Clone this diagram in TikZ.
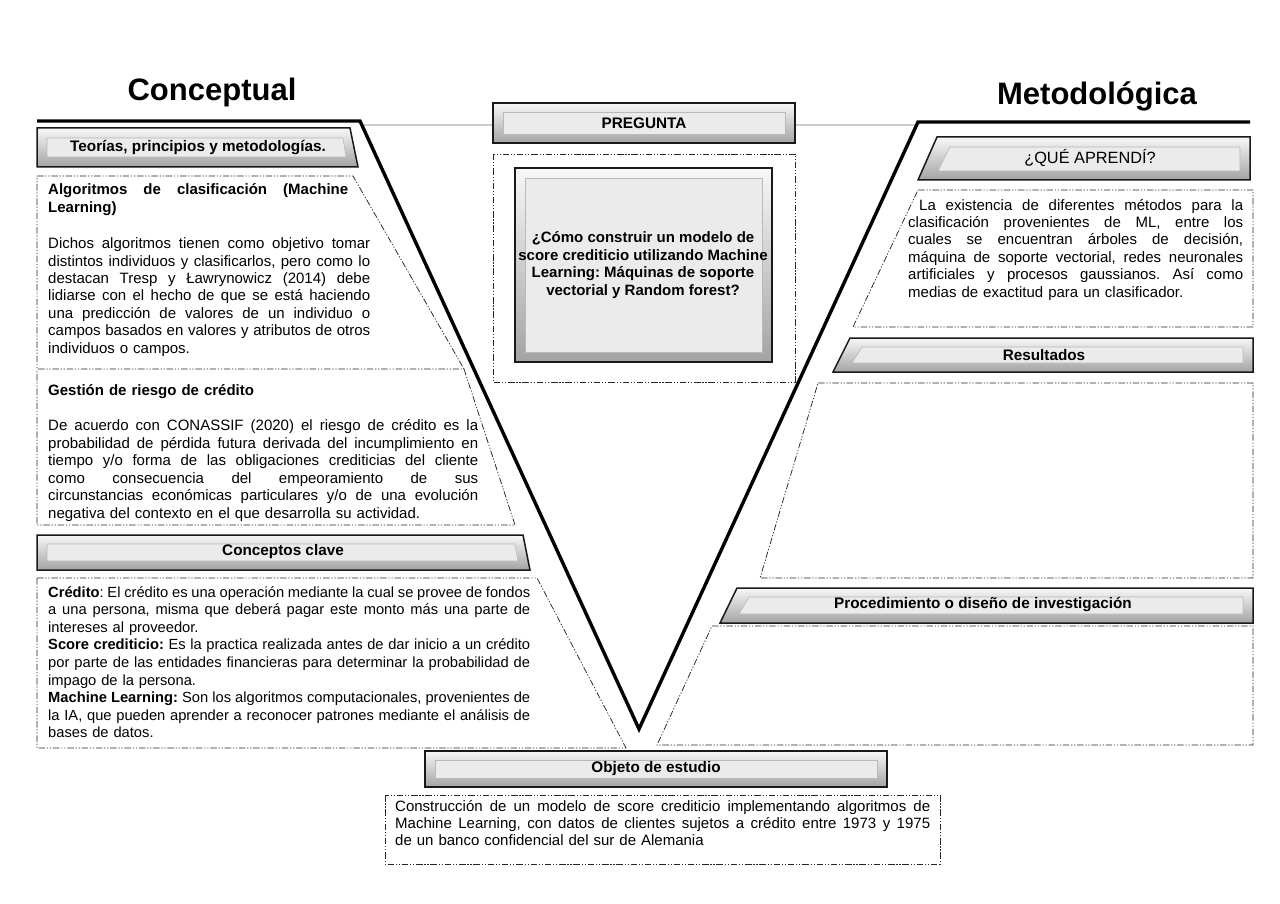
\documentclass[tikz,border=0pt]{standalone}
\usepackage{fontspec}
\setmainfont{Liberation Sans}
\frenchspacing
\newcommand\bodyfont{\fontsize{15}{17.4}\selectfont\frenchspacing}
\newcommand\gesfont{\fontsize{15}{17.5}\selectfont\frenchspacing}
\newcommand\credfont{\fontsize{14.7}{17.6}\selectfont\frenchspacing}
\newcommand\hdrfont{\fontsize{15.3}{17.4}\selectfont\bfseries}
\newcommand\titlefont{\fontsize{31}{36}\selectfont\bfseries}
\newcommand\jl[2]{\leavevmode\hbox to #1pt{\spaceskip=0.278em plus 3em minus 0.07em\xspaceskip=\spaceskip\relax #2}}
\newcommand\bevel[2]{%
  \path[bevelout] #1 -- cycle;
  \path[bevelin] #2 -- cycle;
  \draw[bevelrim] #1 -- cycle;}
\begin{document}
\begin{tikzpicture}[x=1pt,y=-1pt,
  dd/.style={draw=black!85, line width=0.75pt, dash pattern=on 6.5pt off 1.8pt on 1.2pt off 1.8pt on 1.2pt off 1.8pt},
  bevelout/.style={top color=gray!6, bottom color=gray!72},
  bevelin/.style={fill=gray!16, draw=gray!55, line width=0.6pt},
  bevelrim/.style={draw=black!90, line width=1.5pt, line join=miter},
  hdrtext/.style={font=\hdrfont, inner sep=0pt},
  titletext/.style={font=\titlefont, inner sep=0pt, anchor=base},
  body/.style={font=\bodyfont, inner sep=0pt, anchor=north west, align=left}]
\useasboundingbox (0,0) rectangle (1280,904);
\fill[white] (0,0) rectangle (1280,904);

% thin gray line behind PREGUNTA
\draw[gray!40, line width=1.8pt] (360,125) -- (918,125);

% titles
\node[titletext] (tconc) at (212,101) {Conceptual};
\node[titletext] (tmet) at (1097,105) {Metodológica};

% ---------- left column ----------
\bevel{(37,128) -- (350,128) -- (358,167) -- (37,167)}{(47,138) -- (343,138) -- (346,157) -- (47,157)}
\node[hdrtext] (hteo) at (198,148) {Teorías, principios y metodologías.};

\draw[dd] (37,176) -- (353,176) -- (464,369) -- (37,369) -- cycle;
\node[body, text width=322pt] (alg) at (48,182.3) {\strut\jl{300}{\textbf{Algoritmos de clasificación (Machine}}\\\textbf{Learning)}};
\node[body, text width=322pt] (algtxt) at (48,236.3) {\strut\jl{322}{Dichos algoritmos tienen como objetivo tomar}\\
\jl{322}{distintos individuos y clasificarlos, pero como lo}\\
\jl{322}{destacan Tresp y Ławrynowicz (2014) debe}\\
\jl{322}{lidiarse con el hecho de que se está haciendo}\\
\jl{322}{una predicción de valores de un individuo o}\\
\jl{322}{campos basados en valores y atributos de otros}\\
individuos o campos.};

\draw[dd] (464,369) -- (515,525) -- (37,525) -- (37,369);
\node[body, text width=430pt] (ges) at (48,383.3) {\strut\textbf{Gestión de riesgo de crédito}};
\node[body, font=\gesfont, text width=430pt] (gestxt) at (48,418.3) {\strut\jl{430}{De acuerdo con CONASSIF (2020) el riesgo de crédito es la}\\
\jl{430}{probabilidad de pérdida futura derivada del incumplimiento en}\\
\jl{430}{tiempo y/o forma de las obligaciones crediticias del cliente}\\
\jl{430}{como consecuencia del empeoramiento de sus}\\
\jl{430}{circunstancias económicas particulares y/o de una evolución}\\
negativa del contexto en el que desarrolla su actividad.};

\bevel{(37,535) -- (523,535) -- (530,570) -- (37,570)}{(47,544) -- (515,544) -- (518,561) -- (47,561)}
\node[hdrtext] (hcon) at (283,552) {Conceptos clave};

\draw[dd] (37,578) -- (537,578) -- (626,748) -- (37,748) -- cycle;
\node[body, font=\credfont, text width=482pt] (cred) at (48,584.6) {\strut\jl{482}{\textbf{Crédito}: El crédito es una operación mediante la cual se provee de fondos}\\
\jl{482}{a una persona, misma que deberá pagar este monto más una parte de}\\
intereses al proveedor.\\
\jl{482}{\textbf{Score crediticio:} Es la practica realizada antes de dar inicio a un crédito}\\
\jl{482}{por parte de las entidades financieras para determinar la probabilidad de}\\
impago de la persona.\\
\jl{482}{\textbf{Machine Learning:} Son los algoritmos computacionales, provenientes de}\\
\jl{482}{la IA, que pueden aprender a reconocer patrones mediante el análisis de}\\
bases de datos.};

% ---------- centre ----------
\bevel{(493,103) -- (795,103) -- (795,143) -- (493,143)}{(503,112) -- (785,112) -- (785,134) -- (503,134)}
\node[hdrtext] (hpre) at (644,123) {PREGUNTA};
\draw[dd] (493,154) rectangle (795,382);
\bevel{(515,168) -- (772,168) -- (772,362) -- (515,362)}{(525,178) -- (762,178) -- (762,352) -- (525,352)}
\node[hdrtext, font=\fontsize{15}{17.6}\selectfont\bfseries, align=center] (preg) at (643,265) {¿Cómo construir un modelo de\\score crediticio utilizando Machine\\Learning: Máquinas de soporte\\vectorial y Random forest?};

\bevel{(425,751) -- (887,751) -- (887,787) -- (425,787)}{(435,760) -- (877,760) -- (877,778) -- (435,778)}
\node[hdrtext] (hobj) at (656,769) {Objeto de estudio};
\draw[dd] (385,795) rectangle (940,864);
\node[body, text width=535pt] (obj) at (395,798.8) {\strut\jl{535}{Construcción de un modelo de score crediticio implementando algoritmos de}\\
\jl{535}{Machine Learning, con datos de clientes sujetos a crédito entre 1973 y 1975}\\
de un banco confidencial del sur de Alemania};

% ---------- right column ----------
\bevel{(937,137) -- (1250,137) -- (1250,180) -- (918,180)}{(950,147) -- (1240,147) -- (1240,171) -- (938,171)}
\node[hdrtext, font=\fontsize{16.3}{18}\selectfont] (hque) at (1090,158) {¿QUÉ APRENDÍ?};
\draw[dd] (918,190) -- (1253,190) -- (1253,327) -- (853,327) -- cycle;
\node[body, text width=335pt] (que) at (908,197.8) {\strut\jl{335}{\hspace{11pt}La existencia de diferentes métodos para la}\\
\jl{335}{clasificación provenientes de ML, entre los}\\
\jl{335}{cuales se encuentran árboles de decisión,}\\
\jl{335}{máquina de soporte vectorial, redes neuronales}\\
\jl{335}{artificiales y procesos gaussianos. Así como}\\
medias de exactitud para un clasificador.};

\bevel{(850,338) -- (1253,338) -- (1253,372) -- (833,372)}{(862,347) -- (1243,347) -- (1243,363) -- (852,363)}
\node[hdrtext] (hres) at (1044,355) {Resultados};
\draw[dd] (818,383) -- (1253,383) -- (1253,578) -- (760,578) -- cycle;

\bevel{(737,588) -- (1253,588) -- (1253,623) -- (720,623)}{(749,597) -- (1243,597) -- (1243,614) -- (739,614)}
\node[hdrtext] (hpro) at (983,605) {Procedimiento o diseño de investigación};
\draw[dd] (712,626) -- (1253,626) -- (1253,745) -- (657,745) -- cycle;

% ---------- V line ----------
\draw[line width=3.4pt, line join=miter] (37,121) -- (360,121) -- (639,729) -- (918,122) -- (1250,122);
\end{tikzpicture}
\end{document}
